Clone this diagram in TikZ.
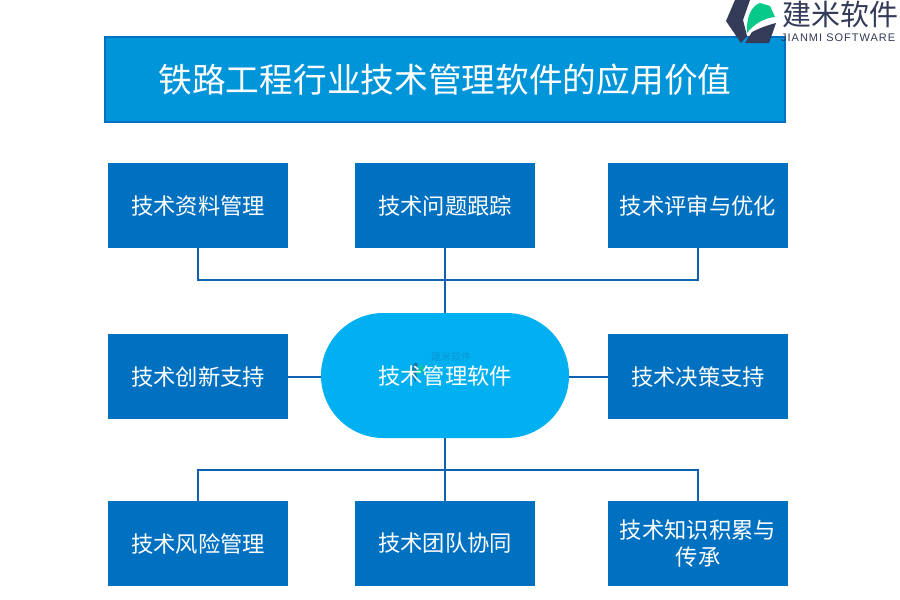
\documentclass[tikz,border=0pt]{standalone}
\usepackage{fontspec}
\setmainfont{Noto Sans CJK SC}
\newfontfamily\latinfont[LetterSpace=9]{Liberation Sans}
\definecolor{boxblue}{HTML}{0070C0}
\definecolor{titleblue}{HTML}{0095D9}
\definecolor{pillblue}{HTML}{00B0F0}
\definecolor{linkblue}{HTML}{0F62B0}
\definecolor{logodark}{HTML}{333B58}
\definecolor{logogreen}{HTML}{06C98A}
\tikzset{
  x=1pt,y=-1pt,
  cardbox/.style={draw=none,fill=boxblue,text=white,minimum width=180pt,minimum height=85pt,inner sep=0pt,align=center,font=\fontsize{22.3}{27}\selectfont},
  link/.style={draw=linkblue,line width=2pt},
}
\begin{document}
\begin{tikzpicture}
\useasboundingbox (0,0) rectangle (900,600);
\fill[white] (0,0) rectangle (900,600);
\node[draw=boxblue,line width=2pt,fill=titleblue,text=white,minimum width=680pt,minimum height=85pt,inner sep=0pt,font=\fontsize{33.7}{40}\selectfont] (title) at (445,79.5) {铁路工程行业技术管理软件的应用价值};
\node[cardbox] (a1) at (198,205.5) {技术资料管理};
\node[cardbox] (a2) at (445,205.5) {技术问题跟踪};
\node[cardbox] (a3) at (698,205.5) {技术评审与优化};
\node[cardbox] (b1) at (198,376.5) {技术创新支持};
\node[cardbox] (b3) at (698,376.5) {技术决策支持};
\node[cardbox] (c1) at (198,543.5) {技术风险管理};
\node[cardbox] (c2) at (445,543.5) {技术团队协同};
\node[cardbox,text width=170pt] (c3) at (698,543.5) {技术知识积累与\\传承};
\node[fill=pillblue,rounded corners=62.5pt,minimum width=248pt,minimum height=125pt,inner sep=0pt] (hub) at (445,375.5) {};
\coordinate (jt) at (445,280);
\coordinate (jb) at (445,470);
\draw[link] (a1.south) |- (jt);
\draw[link] (a3.south) |- (jt);
\draw[link] (a2.south) -- (jt) -- (hub.north);
\draw[link] (b1.east) -- (b1.east -| hub.west);
\draw[link] (b3.west) -- (b3.west -| hub.east);
\draw[link] (hub.south) -- (jb);
\draw[link] (c1.north) |- (jb);
\draw[link] (c3.north) |- (jb);
\draw[link] (c2.north) -- (jb);
% faint watermark inside the hub
\fill[logodark!45!pillblue] (414,363) -- (418,363) -- (416,372) -- (417,379) -- (415,382) -- (411,372) -- cycle;
\fill[logogreen!70!pillblue] (417,377) .. controls (417,370) and (419,365) .. (422,364) -- (425,372) .. controls (421,372) and (419,374) .. (417,377) -- cycle;
\node[text=logodark!22!pillblue,inner sep=0pt,font=\fontsize{10}{11}\selectfont] (wmname) at (451,357) {建米软件};
\node[text=white,inner sep=0pt,font=\fontsize{22.3}{27}\selectfont] (hubtext) at (445,375.5) {技术管理软件};
% logo
\fill[logodark] (735,0) -- (750,0) -- (743,20) -- (747,36) -- (741,43) -- (726,21) -- cycle;
\fill[logogreen] (747,33) .. controls (746,18) and (751,6) .. (760,3) -- (770,6) -- (775,17) .. controls (764,18) and (754,24) .. (747,33) -- cycle;
\fill[logodark] (745,43) -- (752,32) .. controls (760,28) and (768,25) .. (776,23) -- (769,43) -- cycle;
\node[text=logodark,inner sep=0pt,anchor=west,font=\fontsize{29}{30}\selectfont] (logoname) at (782,14) {建米软件};
\node[text=logodark,inner sep=0pt,anchor=west,font=\latinfont\fontsize{11}{12}\selectfont] (logolatin) at (781,38) {JIANMI SOFTWARE};
\end{tikzpicture}
\end{document}
